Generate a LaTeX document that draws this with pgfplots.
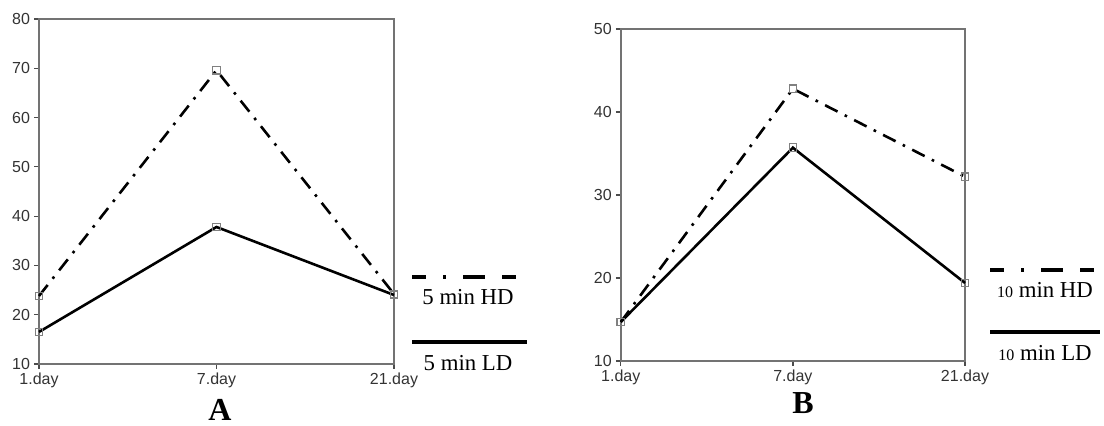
\documentclass[border=0pt]{standalone}
\usepackage{fontspec}
\setmainfont{Liberation Serif}
\setsansfont{Liberation Sans}
\usepackage{pgfplots}
\pgfplotsset{compat=1.18}
\begin{document}
\begin{tikzpicture}
\useasboundingbox (0,0) rectangle (552pt,213pt);
\pgfplotsset{
  panel/.style={
    scale only axis, anchor=south west,
    xmin=0, xmax=2, xtick={0,1,2},
    xticklabels={1.day,7.day,21.day},
    axis line style={draw=black!55, line width=0.8pt},
    tick align=outside, major tick length=2.5pt,
    xtick pos=bottom, ytick pos=left,
    tick style={black!70, line width=0.6pt},
    tick label style={font=\fontsize{8}{9}\selectfont\sffamily, text=black!80},
    /pgf/number format/assume math mode=true,
    xticklabel style={yshift=1.5pt},
    yticklabel style={xshift=1.5pt},
    clip=false,
  },
  hd/.style={black, line width=1.3pt, dash pattern=on 7pt off 4pt on 1.3pt off 4pt,
    mark=square, mark size=1.9pt, mark options={solid, draw=black!50, fill=white, line width=0.6pt}},
  ld/.style={black, line width=1.3pt,
    mark=square, mark size=1.9pt, mark options={solid, draw=black!50, fill=none, line width=0.6pt}},
}
% Panel A
\begin{axis}[panel, at={(19.5pt,31pt)}, width=177.5pt, height=172.5pt,
  ymin=10, ymax=80, ytick={10,20,30,40,50,60,70,80}]
\addplot[hd] coordinates {(0,23.8) (1,69.6) (2,24.2)};
\addplot[ld] coordinates {(0,16.5) (1,37.8) (2,24.0)};
\end{axis}
% Panel B
\begin{axis}[panel, at={(310.4pt,32.5pt)}, width=172.1pt, height=166pt,
  ymin=10, ymax=50, ytick={10,20,30,40,50}]
\addplot[hd] coordinates {(0,14.7) (1,42.8) (2,32.2)};
\addplot[ld] coordinates {(0,14.7) (1,35.7) (2,19.4)};
\end{axis}
% Legend A
\draw[black, line width=1.7pt, dash pattern=on 7pt off 8.5pt on 1.7pt off 8.5pt on 11pt off 8.5pt] (206pt,74.5pt) -- (263.5pt,74.5pt);
\node[font=\fontsize{11.4}{13}\selectfont] at (234pt,64.5pt) {5 min HD};
\draw[black, line width=1.7pt] (206pt,42pt) -- (263.5pt,42pt);
\node[font=\fontsize{11.4}{13}\selectfont] at (234pt,31.5pt) {5 min LD};
% Legend B
\draw[black, line width=1.7pt, dash pattern=on 7pt off 8.5pt on 1.7pt off 8.5pt on 11pt off 8.5pt] (495pt,78pt) -- (550pt,78pt);
\node[font=\fontsize{11.4}{13}\selectfont] at (522.5pt,68pt) {{\fontsize{8}{9}\selectfont 10} min HD};
\draw[black, line width=1.7pt] (495pt,47pt) -- (550pt,47pt);
\node[font=\fontsize{11.4}{13}\selectfont] at (522.5pt,36.5pt) {{\fontsize{8}{9}\selectfont 10} min LD};
% Panel labels
\node[font=\fontsize{16}{18}\selectfont\bfseries] at (110pt,8pt) {A};
\node[font=\fontsize{16}{18}\selectfont\bfseries] at (401.5pt,11.5pt) {B};
\end{tikzpicture}
\end{document}
